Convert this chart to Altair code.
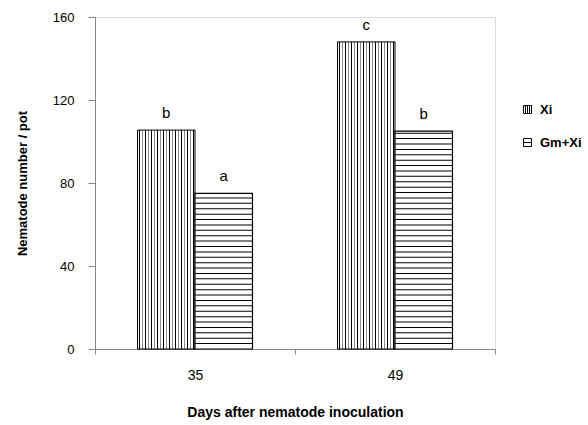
import altair as alt
import pandas as pd

days = ["35", "49"]
groups = ["Xi", "Gm+Xi"]
xi_values = [105.5, 148]
gmxi_values = [75, 105]
xi_letters = ["b", "c"]
gmxi_letters = ["a", "b"]
y_ticks = [0, 40, 80, 120, 160]

rows = []
for d, v, l in zip(days, xi_values, xi_letters):
    rows.append({"Day": d, "Group": "Xi", "Value": v, "Letter": l})
for d, v, l in zip(days, gmxi_values, gmxi_letters):
    rows.append({"Day": d, "Group": "Gm+Xi", "Value": v, "Letter": l})
df = pd.DataFrame(rows)

# horizontal hatch lines for Gm+Xi bars (pattern, spaced within each bar)
hatch = []
step = 2.6
for d, v in zip(days, gmxi_values):
    k = 1
    while k * step < v:
        hatch.append({"Day": d, "Group": "Gm+Xi", "Line": k * step})
        k += 1
hatch_df = pd.DataFrame(hatch)

# vertical stripe gradient for Xi bars
n = 19
stops = [{"offset": 0, "color": "white"}]
for i in range(n):
    a = (i + 0.35) / n
    b = (i + 0.75) / n
    c = "#000000" if i % 2 == 0 else "#8a8a8a"
    stops += [{"offset": a, "color": "white"}, {"offset": a, "color": c},
              {"offset": b, "color": c}, {"offset": b, "color": "white"}]
stops.append({"offset": 1, "color": "white"})
stripe = {"gradient": "linear", "x1": 0, "y1": 0, "x2": 1, "y2": 0, "stops": stops}

FONT = "Liberation Sans"

x_enc = alt.X("Day:N", sort=days,
              scale=alt.Scale(paddingInner=0, paddingOuter=0),
              axis=alt.Axis(title="Days after nematode inoculation", labelAngle=0,
                            tickBand="extent", tickSize=5, labelPadding=14,
                            domainColor="#868686", tickColor="#868686",
                            labelFont=FONT, labelFontSize=14, labelColor="black",
                            titleFont=FONT, titleFontSize=14, titleFontWeight="bold",
                            titleColor="black", titleY=63, titleBaseline="middle"))
xo_enc = alt.XOffset("Group:N", sort=groups,
                     scale=alt.Scale(domain=groups, paddingInner=0, paddingOuter=0.74))
y_scale = alt.Scale(domain=[0, 160], nice=False)
y_enc = alt.Y("Value:Q", scale=y_scale,
              axis=alt.Axis(title="Nematode number / pot", values=y_ticks, grid=False,
                            tickSize=7, labelPadding=14,
                            domainColor="#868686", tickColor="#868686",
                            labelFont=FONT, labelFontSize=13, labelColor="black",
                            titleFont=FONT, titleFontSize=13, titleFontWeight="bold",
                            titleColor="black", titleX=-73, titleY=166,
                            titleBaseline="middle"))

base = alt.Chart(df)

bars_xi = base.transform_filter(alt.datum.Group == "Xi").mark_bar(
    fill=stripe, stroke="black", strokeWidth=1
).encode(x=x_enc, xOffset=xo_enc, y=y_enc)

bars_gm = base.transform_filter(alt.datum.Group == "Gm+Xi").mark_bar(
    fill="white", stroke="black", strokeWidth=1.2
).encode(x=x_enc, xOffset=xo_enc, y=y_enc)

lines = alt.Chart(hatch_df).mark_tick(
    orient="horizontal", size=57, thickness=1, color="black", opacity=1
).encode(x=x_enc, xOffset=xo_enc, y=alt.Y("Line:Q", scale=y_scale))

letters = base.mark_text(
    baseline="bottom", dy=-9, font=FONT, fontSize=15, color="black"
).encode(x=x_enc, xOffset=xo_enc, y=y_enc, text="Letter:N")

legend_pts = base.mark_point(opacity=0, size=0).encode(
    x=x_enc, xOffset=xo_enc, y=y_enc,
    shape=alt.Shape("Group:N", sort=groups,
                    scale=alt.Scale(domain=groups, range=[
                        "M-1,-1H1V1H-1Z M-0.5,-1V1 M0,-1V1 M0.5,-1V1",
                        "M-1,-1H1V1H-1Z M-1,0H1"]),
                    legend=alt.Legend(title=None, orient="none", legendX=426, legendY=86,
                                      symbolSize=64, symbolOpacity=1,
                                      symbolStrokeColor="black", symbolFillColor="white",
                                      symbolStrokeWidth=1, rowPadding=19,
                                      labelFont=FONT, labelFontSize=13,
                                      labelFontWeight="bold", labelColor="black",
                                      labelOffset=6)))

chart = alt.layer(bars_xi, bars_gm, lines, letters, legend_pts).properties(
    width=400, height=332, autosize="none",
    padding={"left": 95, "top": 17, "right": 93, "bottom": 76}
).configure_view(stroke=None).configure(background="white")

chart.save("out.html", embed_options={"renderer": "svg", "actions": False})
